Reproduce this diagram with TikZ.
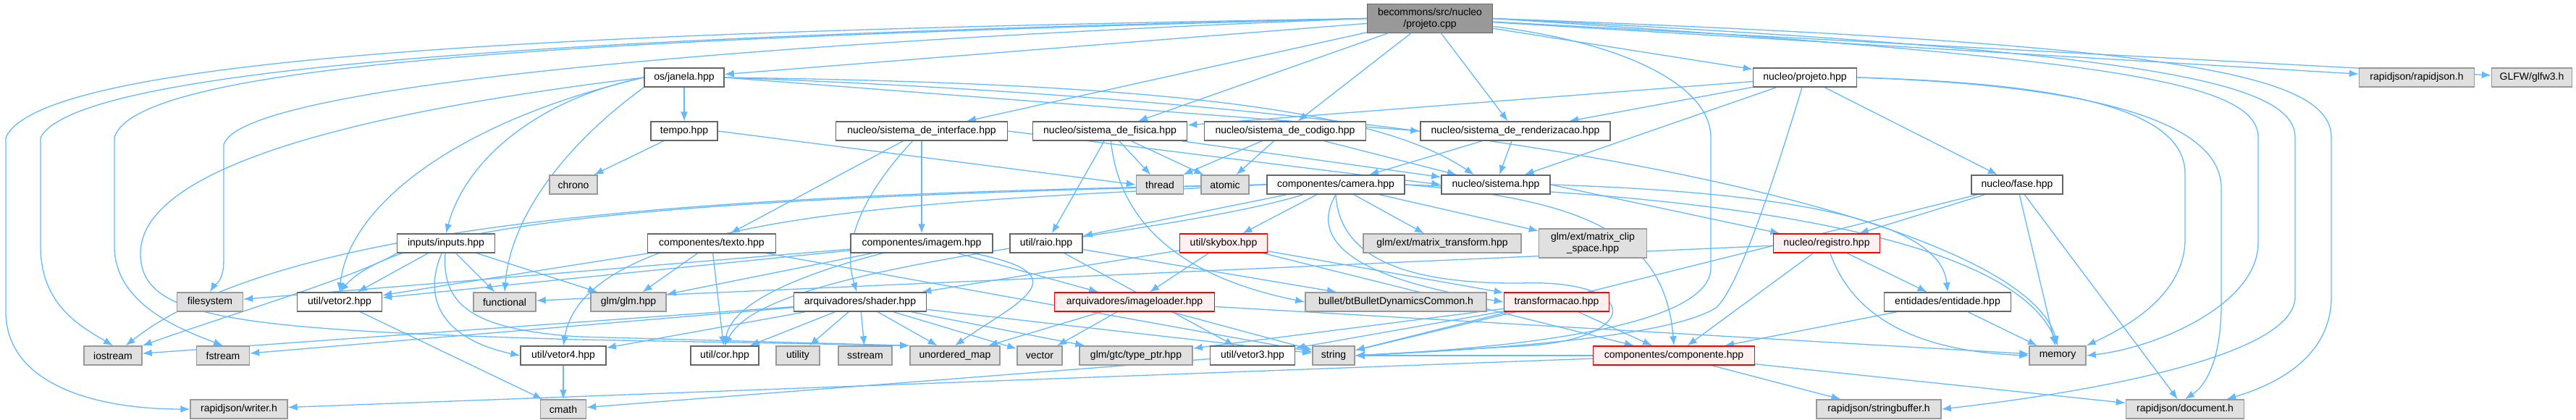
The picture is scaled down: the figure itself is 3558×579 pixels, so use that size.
\documentclass[tikz,border=0pt]{standalone}
\usepackage{fontspec}
\setmainfont{Liberation Sans}
\usepackage{xcolor}
\usetikzlibrary{arrows.meta,backgrounds}
\definecolor{edgeblue}{HTML}{63B8FF}
\definecolor{boxgray}{HTML}{E0E0E0}
\definecolor{docline}{HTML}{666666}
\definecolor{extline}{HTML}{999999}
\definecolor{cutfill}{HTML}{FFF0F0}
\begin{document}
\begin{tikzpicture}[x=1pt,y=-1pt,>={Latex[length=13pt,width=10pt]},
 basebox/.style={draw,line width=1.5pt,minimum height=26pt,inner sep=0pt,font=\fontsize{14}{16}\selectfont},
 docbox/.style={basebox,draw=docline,fill=white},
 extbox/.style={basebox,draw=extline,fill=boxgray},
 cutbox/.style={basebox,draw=red,fill=cutfill},
 rootbox/.style={basebox,draw=docline,fill=extline,align=center,minimum height=40pt},
 bw/.style={minimum width=#1pt},
 incl/.style={->,draw=edgeblue,line width=1.3pt}]
\useasboundingbox (0,0) rectangle (3558,579);
\node[rootbox,bw=173] (cpp) at (1975,25.5) {becommons/src/nucleo\\/projeto.cpp};
\node[docbox,bw=110] (janela) at (945,107) {os/janela.hpp};
\node[docbox,bw=143] (projh) at (2493,107) {nucleo/projeto.hpp};
\node[extbox,bw=159] (rjson) at (3338,107) {rapidjson/rapidjson.h};
\node[extbox,bw=111] (glfw) at (3497,107) {GLFW/glfw3.h};
\node[docbox,bw=92] (tempo) at (945,181) {tempo.hpp};
\node[docbox,bw=237] (iface) at (1273,181) {nucleo/sistema\_de\_interface.hpp};
\node[docbox,bw=213] (fisica) at (1533,181) {nucleo/sistema\_de\_fisica.hpp};
\node[docbox,bw=223] (codigo) at (1775,181) {nucleo/sistema\_de\_codigo.hpp};
\node[docbox,bw=262] (render) at (2093,181) {nucleo/sistema\_de\_renderizacao.hpp};
\node[extbox,bw=66] (chrono) at (792,255) {chrono};
\node[extbox,bw=65] (thread) at (1602,255) {thread};
\node[extbox,bw=66] (atomic) at (1692,255) {atomic};
\node[docbox,bw=190] (camera) at (1845,255) {componentes/camera.hpp};
\node[docbox,bw=150] (sistema) at (2066,255) {nucleo/sistema.hpp};
\node[docbox,bw=126] (fase) at (2786,255) {nucleo/fase.hpp};
\node[docbox,bw=135] (inputs) at (616,336) {inputs/inputs.hpp};
\node[docbox,bw=177] (texto) at (983,336) {componentes/texto.hpp};
\node[docbox,bw=196] (imagem) at (1273,336) {componentes/imagem.hpp};
\node[docbox,bw=100] (raio) at (1445,336) {util/raio.hpp};
\node[cutbox,bw=121] (skybox) at (1690,336) {util/skybox.hpp};
\node[extbox,bw=218] (mtrans) at (1992,336) {glm/ext/matrix\_transform.hpp};
\node[extbox,bw=149,align=center,minimum height=40pt] (mclip) at (2200,336) {glm/ext/matrix\_clip\\\_space.hpp};
\node[cutbox,bw=147] (registro) at (2523,336) {nucleo/registro.hpp};
\node[extbox,bw=91] (filesys) at (290,417) {filesystem};
\node[docbox,bw=117] (vetor2) at (469,417) {util/vetor2.hpp};
\node[extbox,bw=86] (functional) at (697,417) {functional};
\node[extbox,bw=104] (glm) at (868,417) {glm/glm.hpp};
\node[docbox,bw=183] (shader) at (1188,417) {arquivadores/shader.hpp};
\node[cutbox,bw=221] (imgload) at (1567,417) {arquivadores/imageloader.hpp};
\node[extbox,bw=250] (bullet) at (1928,417) {bullet/btBulletDynamicsCommon.h};
\node[cutbox,bw=145] (transf) at (2150,417) {transformacao.hpp};
\node[docbox,bw=175] (entidade) at (2690,417) {entidades/entidade.hpp};
\node[extbox,bw=80] (iostream) at (156,491) {iostream};
\node[extbox,bw=73] (fstream) at (308,491) {fstream};
\node[docbox,bw=118] (vetor4) at (778,491) {util/vetor4.hpp};
\node[docbox,bw=94] (cor) at (1001,491) {util/cor.hpp};
\node[extbox,bw=60] (utility) at (1102,491) {utility};
\node[extbox,bw=74] (sstream) at (1195,491) {sstream};
\node[extbox,bw=124] (umap) at (1319,491) {unordered\_map};
\node[extbox,bw=62] (vector) at (1436,491) {vector};
\node[extbox,bw=156] (typeptr) at (1569,491) {glm/gtc/type\_ptr.hpp};
\node[docbox,bw=117] (vetor3) at (1730,491) {util/vetor3.hpp};
\node[extbox,bw=58] (string) at (1842,491) {string};
\node[cutbox,bw=223] (componente) at (2312,491) {componentes/componente.hpp};
\node[extbox,bw=78] (memory) at (2842,491) {memory};
\node[extbox,bw=134] (writer) at (330,565) {rapidjson/writer.h};
\node[extbox,bw=63] (cmath) at (778,565) {cmath};
\node[extbox,bw=172] (sbuf) at (2595,565) {rapidjson/stringbuffer.h};
\node[extbox,bw=163] (document) at (3018,565) {rapidjson/document.h};
\begin{scope}[on background layer]
\draw[incl] (cpp) -- (janela);
\draw[incl] (cpp) -- (iface);
\draw[incl] (cpp) -- (fisica);
\draw[incl] (cpp) -- (codigo);
\draw[incl] (cpp) -- (render);
\draw[incl] (cpp) -- (projh);
\draw[incl] (cpp) -- (rjson);
\draw[incl] (cpp) -- (glfw);
\draw[incl] (cpp.west) .. controls (900,42) and (60,70) .. (8,190) -- (8,430) .. controls (8,530) and (130,565) .. (writer.west);
\draw[incl] (cpp.west) .. controls (900,48) and (110,85) .. (56,190) -- (56,340) .. controls (56,420) and (110,450) .. (iostream.north);
\draw[incl] (cpp.west) .. controls (900,52) and (190,80) .. (158,190) -- (158,340) .. controls (158,420) and (250,455) .. (fstream.north);
\draw[incl] (cpp.west) .. controls (1000,60) and (330,120) .. (309,200) -- (309,360) .. controls (309,390) and (295,395) .. (filesys.north);
\draw[incl] (cpp.east) .. controls (2900,80) and (3119,110) .. (3119,190) -- (3119,335) .. controls (3119,420) and (2980,480) .. (memory.east);
\draw[incl] (cpp.east) .. controls (2950,70) and (3170,110) .. (3170,190) -- (3170,410) .. controls (3170,490) and (2900,540) .. (sbuf.east);
\draw[incl] (cpp.east) .. controls (3000,60) and (3220,100) .. (3220,190) -- (3220,410) .. controls (3220,500) and (3130,535) .. ([xshift=-25pt]document.north east);
\draw[incl] (cpp) .. controls (2250,60) and (2363,120) .. (2363,190) -- (2363,370) .. controls (2363,450) and (2100,480) .. (string.east);
\draw[incl] (janela) -- (tempo);
\draw[incl] (janela.west) .. controls (730,140) and (640,230) .. (inputs.north);
\draw[incl] (janela.west) .. controls (620,170) and (480,290) .. (vetor2.north);
\draw[incl] (janela.south west) .. controls (780,200) and (705,300) .. (functional.north);
\draw[incl] (janela.west) .. controls (450,160) and (194,240) .. (194,350) .. controls (194,440) and (320,455) .. (800,469) -- (umap.north west);
\draw[incl] (janela.east) -- (render.west);
\draw[incl] (janela.east) .. controls (1600,115) and (1900,150) .. ([xshift=-30pt]sistema.north);
\draw[incl] (janela.east) .. controls (2200,150) and (2800,320) .. (memory.north);
\draw[incl] (projh) -- (fisica);
\draw[incl] (projh) -- (render);
\draw[incl] (projh) -- (sistema);
\draw[incl] (projh) -- (fase);
\draw[incl] (projh.east) .. controls (2850,115) and (3018,150) .. (3018,240) -- (3018,330) .. controls (3018,410) and (2930,455) .. (memory.north east);
\draw[incl] (projh.east) .. controls (2900,118) and (3068,170) .. (3068,260) -- (3068,420) .. controls (3068,490) and (3050,530) .. (document.north);
\draw[incl] (projh) .. controls (2450,250) and (2400,400) .. (2370,425) .. controls (2300,470) and (2000,485) .. (string.east);
\draw[incl] (tempo) -- (chrono);
\draw[incl] (tempo.east) -- (thread.west);
\draw[incl] (iface) -- (texto);
\draw[incl] (iface) -- (imagem);
\draw[incl] (iface) .. controls (1200,260) and (1160,330) .. (shader);
\draw[incl] (iface.east) -- (sistema.west);
\draw[incl] (fisica) -- (thread);
\draw[incl] (fisica) -- (atomic);
\draw[incl] (fisica) -- (raio);
\draw[incl] (fisica) -- (sistema);
\draw[incl] (fisica) .. controls (1545,300) and (1620,380) .. (bullet.west);
\draw[incl] (codigo) -- (thread);
\draw[incl] (codigo) -- (atomic);
\draw[incl] (codigo) -- (sistema);
\draw[incl] (render) -- (camera);
\draw[incl] (render) -- (sistema);
\draw[incl] (sistema.east) -- (registro);
\draw[incl] (sistema.east) .. controls (2450,265) and (2680,300) .. (entidade.north);
\draw[incl] (camera) -- (raio);
\draw[incl] (camera) -- (skybox);
\draw[incl] (camera) -- (mtrans);
\draw[incl] (camera) -- (mclip);
\draw[incl] (camera.south) .. controls (1815,320) and (1840,380) .. (transf.west);
\draw[incl] (camera.south) .. controls (1850,360) and (1950,392) .. (2100,391) .. controls (2270,385) and (2270,470) .. (2100,478) -- (string.east);
\draw[incl] (camera.west) .. controls (1000,268) and (400,300) .. (iostream);
\draw[incl] (camera.west) .. controls (1000,272) and (560,300) .. (vetor2.north);
\draw[incl] (camera.west) .. controls (1300,278) and (810,290) .. (vetor4.north);
\draw[incl] (camera) .. controls (1600,330) and (1060,360) .. (cor.north);
\draw[incl] (camera.east) .. controls (2400,270) and (2780,330) .. (memory.north);
\draw[incl] (camera.east) .. controls (2200,275) and (2300,330) .. (componente.north);
\draw[incl] (inputs.south west) .. controls (500,380) and (300,440) .. (iostream.north east);
\draw[incl] (inputs) -- (vetor2);
\draw[incl] (inputs) -- (functional);
\draw[incl] (inputs) -- (glm);
\draw[incl] (inputs) .. controls (580,420) and (620,470) .. (vetor4.west);
\draw[incl] (inputs) .. controls (610,420) and (650,455) .. (800,465) -- (umap.north west);
\draw[incl] (texto) -- (vetor2);
\draw[incl] (texto) -- (glm);
\draw[incl] (texto) -- (cor);
\draw[incl] (texto) -- (string);
\draw[incl] (imagem) -- (filesys);
\draw[incl] (imagem) -- (vetor2);
\draw[incl] (imagem) -- (glm);
\draw[incl] (imagem) .. controls (1100,380) and (1010,420) .. (cor.north);
\draw[incl] (imagem) -- (imgload);
\draw[incl] (imagem) .. controls (1500,380) and (1400,420) .. (umap.north);
\draw[incl] (raio) -- (bullet);
\draw[incl] (raio) -- (vetor3);
\draw[incl] (skybox) -- (imgload);
\draw[incl] (skybox) -- (shader);
\draw[incl] (skybox) -- (transf);
\draw[incl] (skybox) -- (componente);
\draw[incl] (shader) -- (cor);
\draw[incl] (shader) -- (utility);
\draw[incl] (shader) -- (sstream);
\draw[incl] (shader) -- (umap);
\draw[incl] (shader) -- (vector);
\draw[incl] (shader) -- (typeptr);
\draw[incl] (shader) -- (vetor4);
\draw[incl] (shader) -- (fstream);
\draw[incl] (shader) -- (iostream);
\draw[incl] (shader) -- (string);
\draw[incl] (imgload) -- (vector);
\draw[incl] (imgload) -- (umap);
\draw[incl] (imgload) -- (string);
\draw[incl] (imgload) -- (memory);
\draw[incl] (transf) -- (vetor3);
\draw[incl] (transf) -- (typeptr);
\draw[incl] (transf) -- (componente);
\draw[incl] (transf) -- (string);
\draw[incl] (registro) -- (entidade);
\draw[incl] (registro) -- (componente);
\draw[incl] (registro) .. controls (2560,440) and (2650,485) .. (memory.west);
\draw[incl] (registro) -- (functional);
\draw[incl] (entidade) -- (componente);
\draw[incl] (entidade) -- (memory);
\draw[incl] (fase) -- (registro);
\draw[incl] (fase) -- (memory);
\draw[incl] (fase) -- (document);
\draw[incl] (fase) -- (string);
\draw[incl] (componente) -- (sbuf);
\draw[incl] (componente) -- (document);
\draw[incl] (componente) -- (writer);
\draw[incl] (componente) -- (string);
\draw[incl] (vetor4) -- (cmath);
\draw[incl] (vetor2) -- (cmath);
\draw[incl] (vetor3) -- (cmath);
\end{scope}
\end{tikzpicture}
\end{document}
